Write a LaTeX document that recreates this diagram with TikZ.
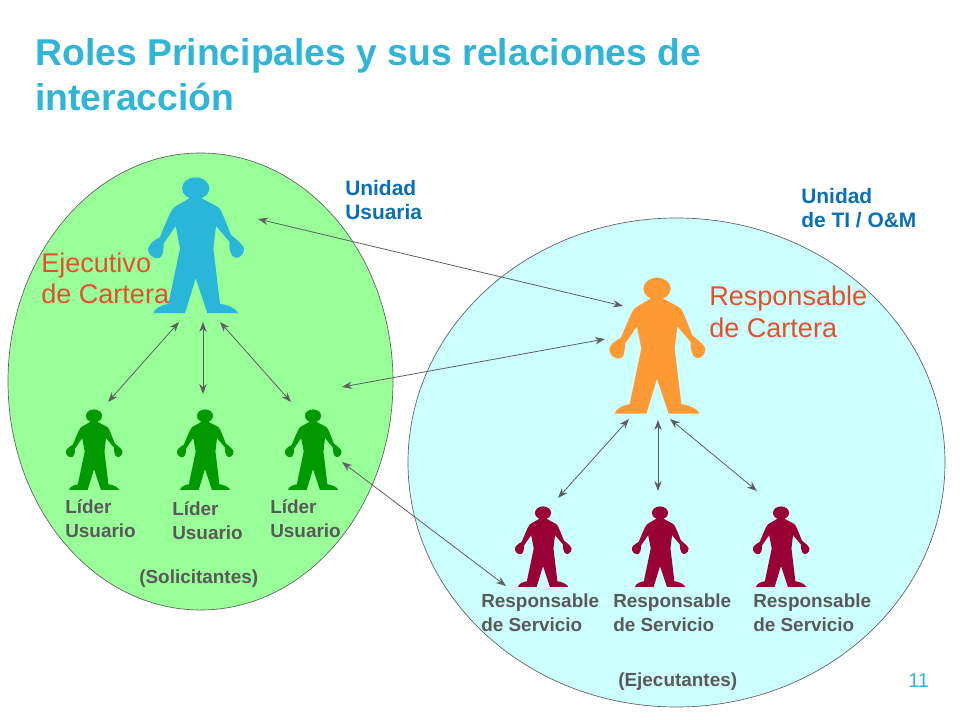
\documentclass[tikz,border=0pt]{standalone}
\usepackage{fontspec}
\setmainfont{Liberation Sans}
\usetikzlibrary{shapes.geometric,arrows.meta}
\definecolor{titleblue}{HTML}{2FB5D8}
\definecolor{unitblue}{HTML}{0B6FB8}
\definecolor{rolered}{HTML}{E5502A}
\definecolor{labelgrey}{HTML}{595959}
\definecolor{arrowgrey}{HTML}{5F5F5F}
\definecolor{regiongreen}{HTML}{99FF99}
\definecolor{regioncyan}{HTML}{CCFFFF}
\definecolor{personblue}{HTML}{29B6DA}
\definecolor{personorange}{HTML}{FF9933}
\definecolor{persongreen}{HTML}{009900}
\definecolor{personred}{HTML}{990033}
\tikzset{
	region/.style={draw=arrowgrey, ellipse, inner sep=0, line width=0.5pt},
	person/.pic={
		\fill (0,35) ellipse (41 and 33);
		\fill (-19,60) -- (-19,65) -- (-62,90) .. controls (-72,95) and (-80,115) .. (-108,182)
			.. controls (-125,192) and (-148,205) .. (-142,225)
			.. controls (-135,245) and (-108,255) .. (-100,232)
			.. controls (-96,220) and (-97,210) .. (-96,200) -- (-60,148)
			-- (-47,215) -- (-82,382) .. controls (-105,385) and (-125,398) .. (-127,410)
			-- (-32,410) -- (0,305) -- (35,410) -- (128,410)
			.. controls (122,398) and (100,385) .. (73,382)
			-- (53,215) -- (61,148) -- (101,195)
			.. controls (100,210) and (102,225) .. (110,238)
			.. controls (122,252) and (145,240) .. (145,215)
			.. controls (142,205) and (125,190) .. (106,175)
			.. controls (80,110) and (75,95) .. (65,90) -- (18,65) -- (18,60) -- cycle;
	},
	link/.style={{Stealth[length=7.5pt,width=5.5pt]}-{Stealth[length=7.5pt,width=5.5pt]}, draw=arrowgrey, line width=0.6pt},
	titletext/.style={anchor=base west, inner sep=0, align=left, text=titleblue, font=\fontsize{28}{34}\selectfont\bfseries},
	roletext/.style={anchor=base west, inner sep=0, align=left, text=rolered, font=\fontsize{20.3}{24}\selectfont},
	unittext/.style={anchor=base west, inner sep=0, align=left, text=unitblue, font=\fontsize{15.7}{18}\selectfont\bfseries},
	smalltext/.style={anchor=base west, inner sep=0, align=left, text=labelgrey, font=\fontsize{14.2}{18}\selectfont\bfseries}
}
\begin{document}
\begin{tikzpicture}[x=0.75pt,y=-0.75pt]

	\useasboundingbox (0,0) rectangle (960,720);

	% Regions
	\node[region, fill=regiongreen, minimum width=288.75pt, minimum height=342.75pt] (usuaria) at (200.5,381.5) {};
	\node[region, fill=regioncyan, minimum width=402.75pt, minimum height=366.75pt] (ti) at (676.5,462.5) {};

	% People
	\pic[fill=personblue, scale=0.333] (ejecutivo) at (195.7,176.7) {person};
	\pic[fill=personorange, scale=0.333] (cartera) at (657,277) {person};
	\foreach \x/\name in {94/a,205/b,313/c} {
		\pic[fill=persongreen, scale=0.197] (lider\name) at (\x,409) {person};
	}
	\foreach \x/\name in {543/a,660/b,781/c} {
		\pic[fill=personred, scale=0.197] (servicio\name) at (\x,506) {person};
	}

	% Arrow ends
	\coordinate (e1) at (258,219);
	\coordinate (e2) at (623,306);
	\coordinate (e3) at (179,322);
	\coordinate (e4) at (108,402);
	\coordinate (e5) at (203,322);
	\coordinate (e6) at (203,394);
	\coordinate (e7) at (220,322);
	\coordinate (e8) at (291,402);
	\coordinate (e9) at (342,387);
	\coordinate (e10) at (605,339);
	\coordinate (e11) at (342,462);
	\coordinate (e12) at (506,586);
	\coordinate (e13) at (629,419);
	\coordinate (e14) at (558,498);
	\coordinate (e15) at (658,420);
	\coordinate (e16) at (658,491);
	\coordinate (e17) at (670,419);
	\coordinate (e18) at (757,491);
	\foreach \a/\b in {e1/e2,e3/e4,e5/e6,e7/e8,e9/e10,e11/e12,e13/e14,e15/e16,e17/e18} {
		\draw[link] (\a) -- (\b);
	}

	% Texts
	\node[titletext] (title) at (35,111) {Roles Principales y sus relaciones de\\interacción};
	\node[roletext] (ejecutivolabel) at (41,304) {Ejecutivo\\de Cartera};
	\node[roletext] (carteralabel) at (709,337) {Responsable\\de Cartera};
	\node[unittext] (unidadusuaria) at (345,220) {Unidad\\Usuaria};
	\node[unittext] (unidadti) at (801,228) {Unidad\\de TI / O\&M};
	\node[smalltext] (lidera) at (65,537) {Líder\\Usuario};
	\node[smalltext] (liderb) at (172,539) {Líder\\Usuario};
	\node[smalltext] (liderc) at (270,537) {Líder\\Usuario};
	\node[smalltext] (solicitantes) at (139,583) {(Solicitantes)};
	\node[smalltext] (servicioa) at (481,631) {Responsable\\de Servicio};
	\node[smalltext] (serviciob) at (613,631) {Responsable\\de Servicio};
	\node[smalltext] (servicioc) at (753,631) {Responsable\\de Servicio};
	\node[smalltext] (ejecutantes) at (618,686) {(Ejecutantes)};
	\node[anchor=base west, inner sep=0, text=titleblue, font=\fontsize{15}{18}\selectfont] (pagina) at (908,687) {11};

\end{tikzpicture}
\end{document}
